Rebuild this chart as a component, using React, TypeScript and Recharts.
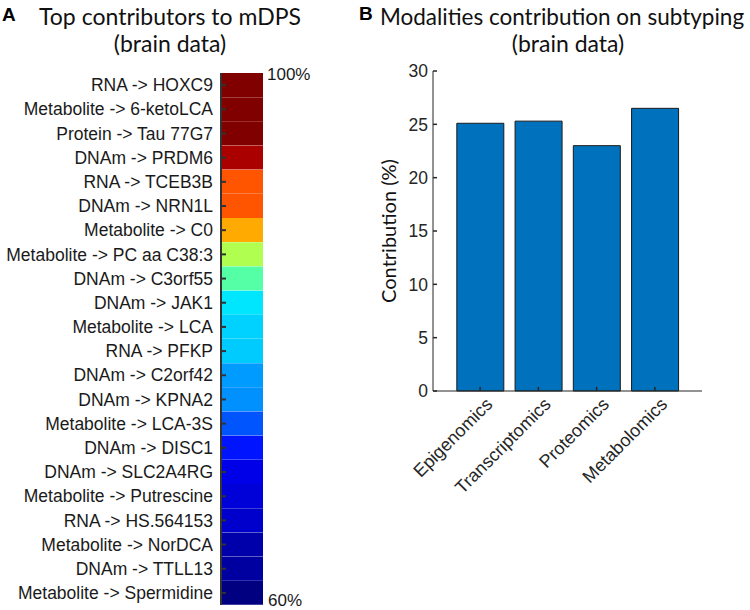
import { BarChart, Bar, XAxis, YAxis, Cell } from 'recharts';

// Panel A: ranked contributors, top (100%) to bottom (60%)
const contributors = [
  'RNA -> HOXC9',
  'Metabolite -> 6-ketoLCA',
  'Protein -> Tau 77G7',
  'DNAm -> PRDM6',
  'RNA -> TCEB3B',
  'DNAm -> NRN1L',
  'Metabolite -> C0',
  'Metabolite -> PC aa C38:3',
  'DNAm -> C3orf55',
  'DNAm -> JAK1',
  'Metabolite -> LCA',
  'RNA -> PFKP',
  'DNAm -> C2orf42',
  'DNAm -> KPNA2',
  'Metabolite -> LCA-3S',
  'DNAm -> DISC1',
  'DNAm -> SLC2A4RG',
  'Metabolite -> Putrescine',
  'RNA -> HS.564153',
  'Metabolite -> NorDCA',
  'DNAm -> TTLL13',
  'Metabolite -> Spermidine',
];

const contributorColors = [
  '#800000', '#800000', '#800000', '#aa0000', '#ff5500', '#ff5500',
  '#ffaa00', '#b0ff50', '#55ffa5', '#00e6ff', '#00d2ff', '#00cbff',
  '#009bff', '#0091ff', '#0055ff', '#0014ff', '#0000e8', '#0000d8',
  '#0000cc', '#0000aa', '#0000a0', '#000080',
];

// every cell of the strip spans the full width
const cellSpan = 1;

// Panel B
const modalities = ['Epigenomics', 'Transcriptomics', 'Proteomics', 'Metabolomics'];
const contribution = [25.1, 25.3, 23.0, 26.5];
const contributionTicks = [0, 5, 10, 15, 20, 25, 30];

const stripData = contributors.map((name, i) => ({ name, span: cellSpan, color: contributorColors[i] }));
const barData = modalities.map((name, i) => ({ name, value: contribution[i] }));

const axisColor = '#262626';
const tickFont = "'Liberation Sans', Arial, sans-serif";
const titleFont = "Lato, 'Open Sans', sans-serif";

const SlantTick = ({ x, y, payload }: any) => (
  <text
    x={x + 9}
    y={y}
    dy="0.35em"
    textAnchor="end"
    transform={`rotate(-45 ${x + 9} ${y})`}
    fontSize={18}
    fontFamily={tickFont}
    fill={axisColor}
  >
    {payload.value}
  </text>
);

export default function App() {
  return (
    <div style={{ position: 'absolute', left: 0, top: 0, width: 750, height: 610, background: '#fff' }}>
      <div style={{ position: 'absolute', left: 0, top: 0 }}>
        <BarChart
          width={330}
          height={610}
          data={stripData}
          layout="vertical"
          barCategoryGap={0}
          margin={{ top: 73, right: 67, bottom: 5, left: 0 }}
        >
          <Bar dataKey="span" isAnimationActive={false}>
            {stripData.map((d) => (
              <Cell key={d.name} fill={d.color} />
            ))}
          </Bar>
          <XAxis type="number" domain={[0, 1]} height={0} tick={false} tickLine={false} axisLine={{ stroke: '#333', strokeWidth: 2 }} />
          <XAxis xAxisId="top" orientation="top" type="number" domain={[0, 1]} height={0} tick={false} tickLine={false} axisLine={{ stroke: '#333', strokeWidth: 2 }} />
          <YAxis
            type="category"
            dataKey="name"
            width={221}
            interval={0}
            tickSize={-5}
            tickMargin={13}
            axisLine={{ stroke: '#333', strokeWidth: 2 }}
            tickLine={{ stroke: '#333', strokeWidth: 2 }}
            tick={{ fontSize: 17.5, fontFamily: tickFont, fill: '#1a1a1a' }}
          />
          <YAxis
            yAxisId="right"
            orientation="right"
            type="category"
            dataKey="name"
            width={0}
            mirror
            interval={0}
            tickSize={5}
            tick={false}
            axisLine={{ stroke: '#333', strokeWidth: 2 }}
            tickLine={{ stroke: '#333', strokeWidth: 2 }}
          />
        </BarChart>
      </div>

      <div style={{ position: 'absolute', left: 330, top: 0 }}>
        <BarChart
          width={420}
          height={610}
          data={barData}
          barCategoryGap="10%"
          margin={{ top: 71, right: 48, bottom: 0, left: 63 }}
        >
          <Bar dataKey="value" fill="#0072bd" stroke="#1a1a1a" strokeWidth={1} isAnimationActive={false} />
          <XAxis
            dataKey="name"
            height={219}
            interval={0}
            padding={{ left: 18, right: 18 }}
            tickSize={-4}
            tickMargin={14}
            axisLine={{ stroke: axisColor }}
            tickLine={{ stroke: axisColor, strokeWidth: 1.5 }}
            tick={<SlantTick />}
          />
          <XAxis
            xAxisId="top"
            orientation="top"
            dataKey="name"
            height={0}
            mirror
            interval={0}
            padding={{ left: 18, right: 18 }}
            tickSize={4}
            tick={false}
            axisLine={{ stroke: axisColor }}
            tickLine={{ stroke: axisColor, strokeWidth: 1.5 }}
          />
          <YAxis
            domain={[0, 30]}
            ticks={contributionTicks}
            width={40}
            interval={0}
            tickSize={-4}
            tickMargin={9}
            axisLine={{ stroke: axisColor }}
            tickLine={{ stroke: axisColor, strokeWidth: 1.5 }}
            tick={{ fontSize: 17.5, fontFamily: tickFont, fill: axisColor }}
          />
          <YAxis
            yAxisId="right"
            orientation="right"
            domain={[0, 30]}
            ticks={contributionTicks}
            width={0}
            mirror
            tickSize={4}
            tick={false}
            axisLine={{ stroke: axisColor }}
            tickLine={{ stroke: axisColor, strokeWidth: 1.5 }}
          />
        </BarChart>
      </div>

      <svg width={750} height={610} style={{ position: 'absolute', left: 0, top: 0, pointerEvents: 'none' }}>
        <text x={2} y={21} fontSize={19} fontWeight="bold" fontFamily={tickFont} fill="#000">A</text>
        <text x={359} y={20} fontSize={19} fontWeight="bold" fontFamily={tickFont} fill="#000">B</text>

        <text x={170} y={25} textAnchor="middle" fontSize={23} fontFamily={titleFont} fill="#111">Top contributors to mDPS</text>
        <text x={170} y={52} textAnchor="middle" fontSize={23} fontFamily={titleFont} fill="#111">(brain data)</text>

        <text x={562} y={25} textAnchor="middle" fontSize={22.5} fontFamily={titleFont} fill="#111">Modalities contribution on subtyping</text>
        <text x={568} y={52} textAnchor="middle" fontSize={23} fontFamily={titleFont} fill="#111">(brain data)</text>

        <text x={267} y={80} fontSize={17} fontFamily={tickFont} fill="#1a1a1a">100%</text>
        <text x={268} y={606} fontSize={17} fontFamily={tickFont} fill="#1a1a1a">60%</text>

        <text transform="translate(396 231) rotate(-90)" textAnchor="middle" fontSize={20} fontFamily={titleFont} fill="#111">Contribution (%)</text>
      </svg>
    </div>
  );
}
